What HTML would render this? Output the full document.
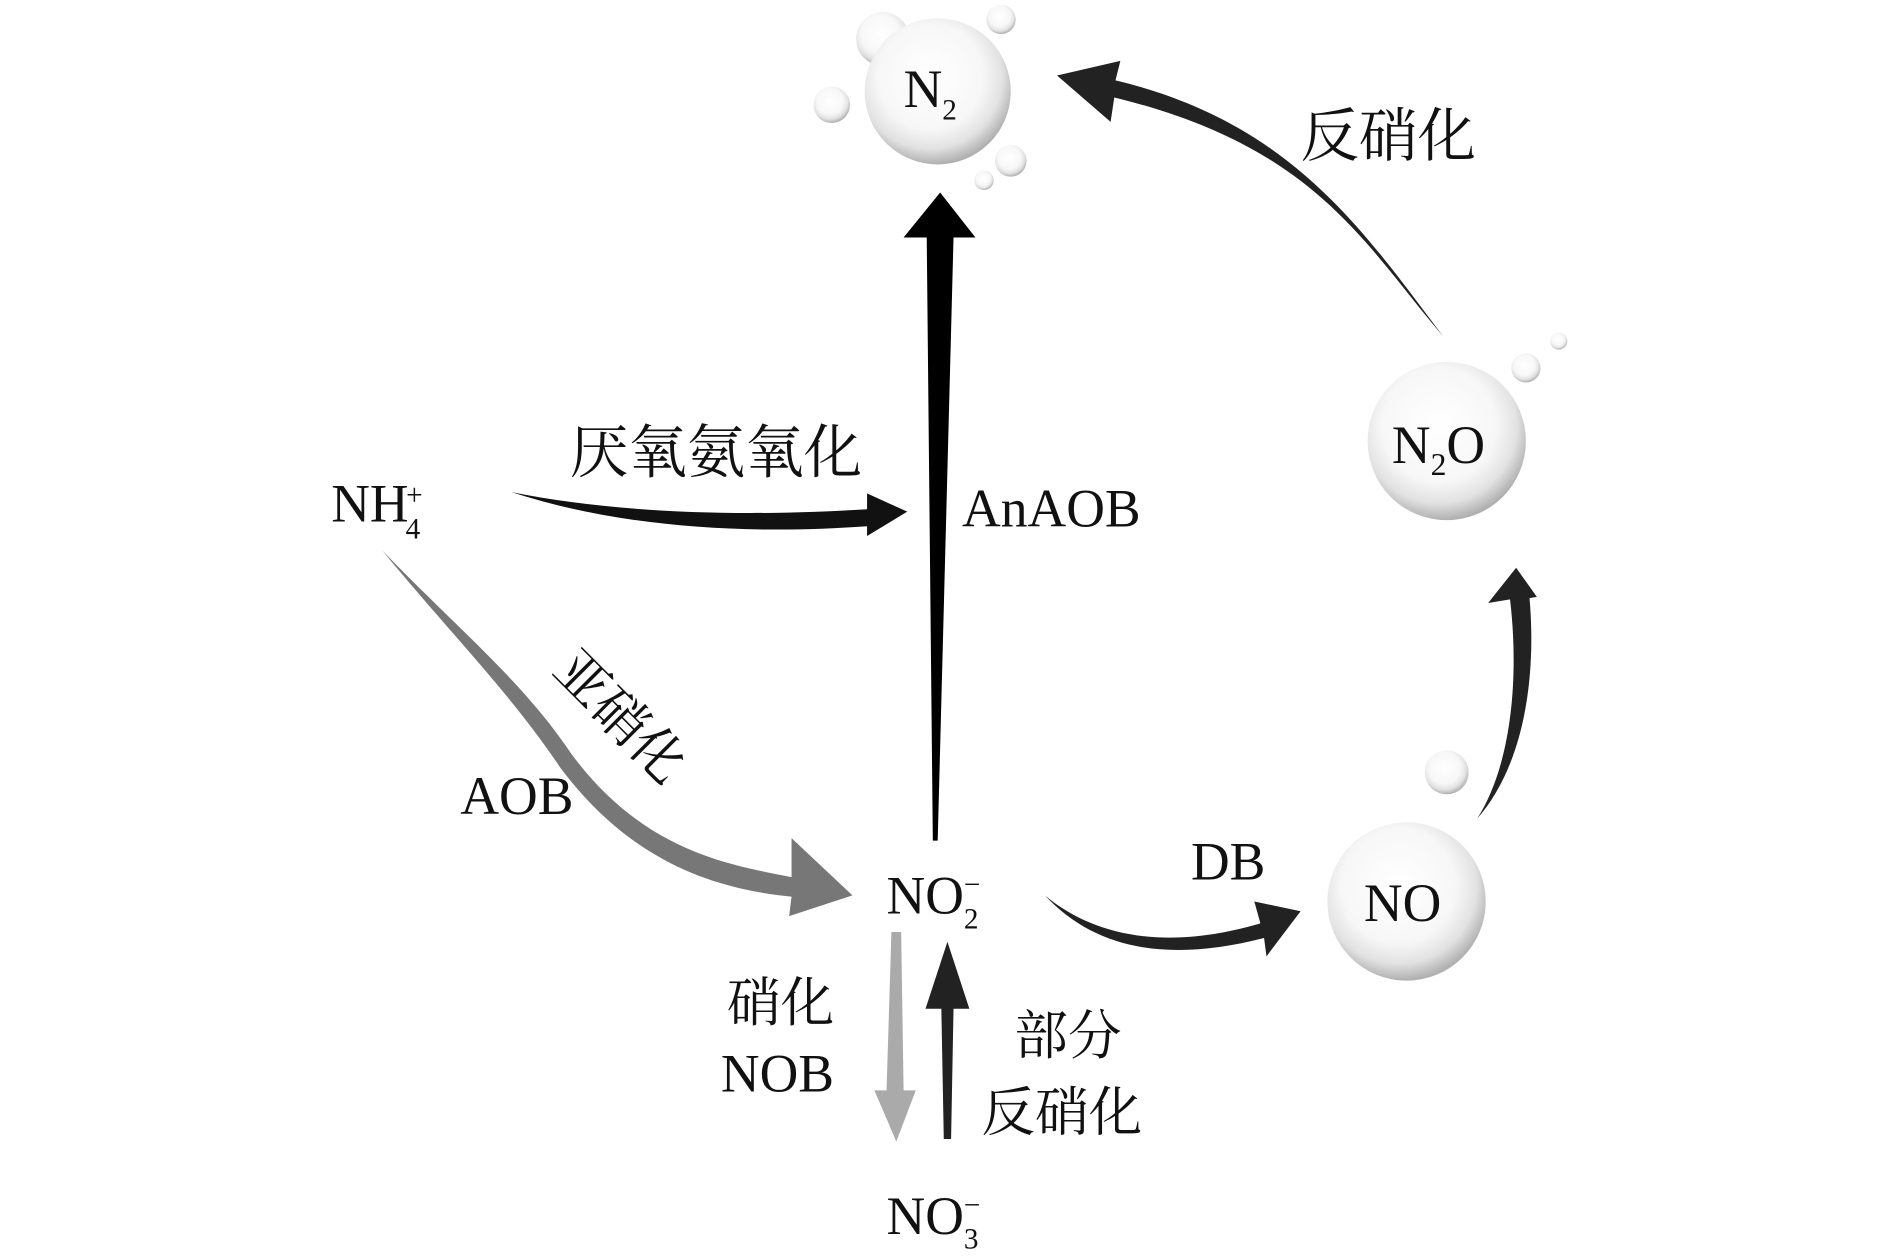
<!DOCTYPE html>
<html><head><meta charset="utf-8"><style>
html,body{margin:0;padding:0;background:#fff;}
svg{display:block;}
text{font-family:"Liberation Serif","Noto Serif CJK SC","Noto Sans CJK SC",serif;fill:#111;}
</style></head><body>
<svg width="1890" height="1256" viewBox="0 0 1552 1031" preserveAspectRatio="none">
<defs>
<radialGradient id="bub" cx="0.45" cy="0.4" r="0.6">
<stop offset="0" stop-color="#fff"/>
<stop offset="0.6" stop-color="#f7f7f7"/>
<stop offset="0.82" stop-color="#e2e2e2"/>
<stop offset="1" stop-color="#b0b0b0"/>
</radialGradient>
</defs>
<circle cx="725" cy="32" r="22" fill="url(#bub)"/>
<circle cx="822" cy="16" r="12" fill="url(#bub)"/>
<circle cx="683" cy="86" r="15" fill="url(#bub)"/>
<circle cx="770" cy="75" r="60" fill="url(#bub)"/>
<circle cx="830" cy="132" r="13" fill="url(#bub)"/>
<circle cx="808" cy="148" r="8" fill="url(#bub)"/>
<text x="742" y="88" font-size="44">N<tspan font-size="24" dy="10">2</tspan></text>
<circle cx="1253" cy="302" r="12" fill="url(#bub)"/>
<circle cx="1280" cy="280" r="7" fill="url(#bub)"/>
<circle cx="1188" cy="362" r="65" fill="url(#bub)"/>
<text x="1143" y="380" font-size="44">N<tspan font-size="26" dy="10">2</tspan><tspan dy="-10">O</tspan></text>
<circle cx="1188" cy="634" r="18" fill="url(#bub)"/>
<circle cx="1155" cy="740" r="65" fill="url(#bub)"/>
<text x="1120" y="756" font-size="44">NO</text>

<path d="M766 690 L761 195 L742 195 L772 158 L801 195 L783 195 L770 690 Z" fill="#000"/>
<path d="M1185 276 C1120 200 1080 120 915 80 L912 100 L868 62 L920 50 L916 66 C1060 100 1120 190 1185 276 Z" fill="#222"/>
<text x="1068" y="128" font-size="48">反硝化</text>
<path d="M1213 672 C1240 630 1248 560 1240 492 L1222 495 L1245 466 L1262 490 L1256 491 C1262 560 1250 630 1213 672 Z" fill="#222"/>
<text x="272" y="428" font-size="44">NH<tspan font-size="24" dx="-2" dy="-14">+</tspan><tspan font-size="24" dx="-14" dy="28">4</tspan></text>
<text x="468" y="388" font-size="48">厌氧氨氧化</text>
<path d="M420 404 C500 420 600 425 712 418 L712 405 L745 420 L712 440 L712 432 C600 440 500 430 420 404 Z" fill="#111"/>
<text x="790" y="432" font-size="44">AnAOB</text>
<path d="M314 452 C380 520 430 560 470 620 C530 700 600 710 650 720 L650 688 L700 735 L648 752 L650 736 C590 730 520 710 460 630 C420 570 370 520 314 452 Z" fill="#777"/>
<text font-size="44" transform="translate(452,552) rotate(45)">亚硝化</text>
<text x="378" y="668" font-size="44">AOB</text>
<text x="728" y="750" font-size="44">NO<tspan font-size="24" dy="12">2</tspan><tspan font-size="24" dx="-12" dy="-28">−</tspan></text>
<path d="M858 735 C900 770 960 780 1035 758 L1030 740 L1068 748 L1040 785 L1038 770 C960 790 900 780 858 735 Z" fill="#222"/>
<text x="978" y="722" font-size="44">DB</text>
<path d="M732 765 L740 765 L742 895 L752 895 L736 937 L718 895 L728 895 Z" fill="#aaa"/>
<path d="M775 935 L781 935 L783 828 L796 828 L778 773 L760 828 L773 828 Z" fill="#222"/>
<text x="597" y="838" font-size="44">硝化</text>
<text x="592" y="896" font-size="44">NOB</text>
<text x="833" y="865" font-size="44">部分</text>
<text x="806" y="928" font-size="44">反硝化</text>
<text x="728" y="1013" font-size="44">NO<tspan font-size="24" dy="12">3</tspan><tspan font-size="24" dx="-12" dy="-28">−</tspan></text>
</svg>
</body></html>
